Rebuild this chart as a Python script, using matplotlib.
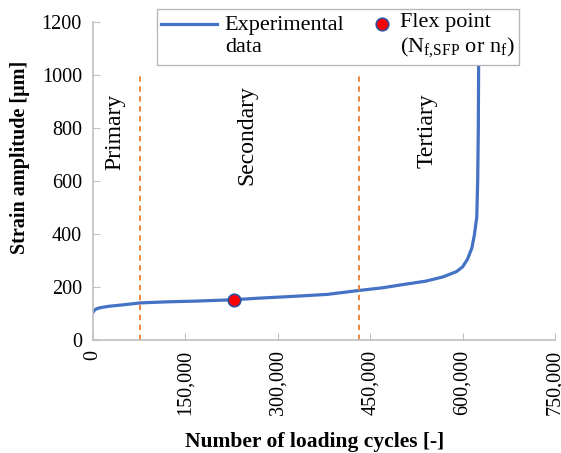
import numpy as np
import matplotlib
matplotlib.use('Agg')
import matplotlib.pyplot as plt
from matplotlib.legend_handler import HandlerLine2D

plt.rcParams['font.family'] = ['Liberation Serif', 'DejaVu Serif']
plt.rcParams['mathtext.fontset'] = 'custom'
plt.rcParams['mathtext.rm'] = 'Liberation Serif'

# strain curve
cycles = [0, 2000, 6000, 12000, 25000, 50000, 77000, 120000, 170000, 229000, 270000,
          320000, 380000, 432000, 470000, 500000, 540000, 568000, 590000, 600000,
          608000, 615000, 619000, 623000, 624500, 625500, 626000]
strain = [104, 112, 118, 122, 127, 133, 140, 144, 147, 152, 158,
          164, 172, 187, 197, 208, 222, 238, 258, 276,
          305, 347, 395, 464, 600, 800, 1030]
flex_x = [229000]
flex_y = [152]
stage_bounds = [77000, 432000]
stage_top = 1000
stage_names = ['Primary', 'Secondary', 'Tertiary']
stage_pos = [(35700, 785), (250000, 774), (542000, 789)]
xticks = [0, 150000, 300000, 450000, 600000, 750000]
yticks = [0, 200, 400, 600, 800, 1000, 1200]


# legend handle lifted to the first text line, optional sideways shift
class TopHandler(HandlerLine2D):
    def __init__(self, dx=0.0, **kw):
        super().__init__(**kw)
        self.dx = dx

    def create_artists(self, legend, orig_handle, xdescent, ydescent, width, height, fontsize, trans):
        arts = super().create_artists(legend, orig_handle, xdescent, ydescent, width, height, fontsize, trans)
        for a in arts:
            a.set_xdata(np.asarray(a.get_xdata(), dtype=float) + self.dx * fontsize)
            a.set_ydata(np.asarray(a.get_ydata(), dtype=float) + 0.55 * fontsize)
        return arts


fig = plt.figure(figsize=(5.61, 4.53), dpi=100)
ax = fig.add_axes([93/561, 1-340/453, 462/561, 318/453])

line, = ax.plot(cycles, strain, color='#4472C4', lw=2.3)
ax.vlines(stage_bounds, 0, stage_top, color='#ED7D31', linestyles=(0, (3, 2.5)), lw=1.3)
pt, = ax.plot(flex_x, flex_y, 'o', color='red', mec='#2F4E9C', mew=1.2, ms=9, ls='none')

for name, (x, y) in zip(stage_names, stage_pos):
    ax.text(x, y, name, rotation=90, ha='center', va='center', fontsize=17)

ax.set_xlim(0, 750000)
ax.set_ylim(0, 1200)
ax.set_xticks(xticks)
ax.set_xticklabels(['{:,}'.format(t) for t in xticks], rotation=90, fontsize=14.5)
ax.set_yticks(yticks)
ax.set_yticklabels([str(t) for t in yticks], fontsize=14.5)
ax.tick_params(axis='y', direction='in', color='#BFBFBF', length=5, pad=8)
ax.tick_params(axis='x', direction='in', color='#BFBFBF', length=5, pad=7)
for s in ['top', 'right']:
    ax.spines[s].set_visible(False)
for s in ['left', 'bottom']:
    ax.spines[s].set_color('#BFBFBF')
    ax.spines[s].set_linewidth(1.2)

ax.set_xlabel('Number of loading cycles [-]', fontsize=15.5, fontweight='bold', va='center')
ax.xaxis.set_label_coords(0.48, -0.32)
ax.set_ylabel('Strain amplitude [μm]', fontsize=14.5, fontweight='bold', va='center')
ax.yaxis.set_label_coords(-0.158, 0.575)

leg = fig.legend([line, pt],
                 ['Experimental\ndata', 'Flex point\n(N$_{\\mathrm{f{,}SFP}}$ or n$_{\\mathrm{f}}$)'],
                 handler_map={line: TopHandler(), pt: TopHandler(dx=0.8)},
                 loc='upper left', bbox_to_anchor=(157/561, 1-9/453), ncol=2, fontsize=16,
                 frameon=True, fancybox=False, edgecolor='#A6A6A6', handlelength=2.5,
                 columnspacing=-0.35, borderpad=0.2, handletextpad=0.35, borderaxespad=0)
leg.get_frame().set_linewidth(1.0)

fig.savefig('out.png', dpi=100)
